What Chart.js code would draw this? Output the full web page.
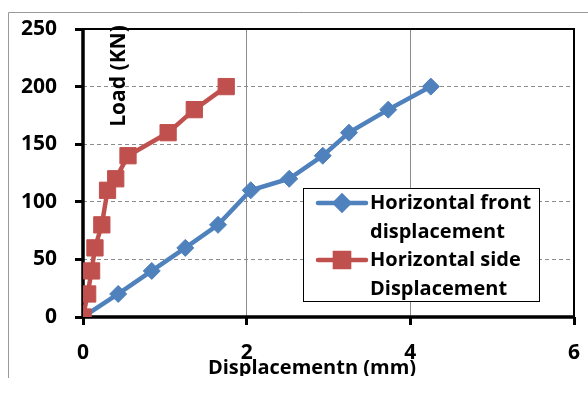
<!DOCTYPE html>
<html lang="en">
<head>
    <meta charset="UTF-8">
    <title>Load vs Displacement</title>
    <script src="https://cdn.jsdelivr.net/npm/chart.js"></script>
    <style>
        body {
            margin: 0;
            background: #ffffff;
        }
        #loadChart {
            display: block;
        }
    </style>
</head>
<body>

    <canvas id="loadChart" width="588" height="378"></canvas>

    <script>
        // displacement (mm) and load (KN) readings
        const frontDisp = [0, 0.43, 0.84, 1.25, 1.65, 2.05, 2.52, 2.93, 3.25, 3.73, 4.25];
        const frontLoad = [0, 20, 40, 60, 80, 110, 120, 140, 160, 180, 200];
        const sideDisp = [0, 0.057, 0.105, 0.146, 0.23, 0.30, 0.40, 0.55, 1.04, 1.36, 1.75];
        const sideLoad = [0, 20, 40, 60, 80, 110, 120, 140, 160, 180, 200];

        const seriesNames = [
            ["Horizontal front", "displacement"],
            ["Horizontal side", "Displacement"]
        ];
        const xTitle = "Displacementn (mm)";
        const yTitle = "Load (KN)";

        const blue = "#4f81bd";
        const red = "#c0504d";
        const FONT = "'Open Sans', sans-serif";

        function toPoints(xs, ys) {
            return xs.map((x, i) => ({ x: x, y: ys[i] }));
        }

        // outer frame, plot box and titles
        const framePlugin = {
            id: "frame",
            beforeDraw(chart) {
                const ctx = chart.ctx;
                ctx.save();
                ctx.fillStyle = "#ffffff";
                ctx.fillRect(0, 0, chart.width, chart.height);
                ctx.strokeStyle = "#999999";
                ctx.lineWidth = 1;
                ctx.beginPath();
                ctx.moveTo(8.5, chart.height);
                ctx.lineTo(8.5, 12.5);
                ctx.lineTo(chart.width, 12.5);
                ctx.stroke();
                ctx.restore();
            },
            beforeDatasetsDraw(chart) {
                const ctx = chart.ctx;
                const a = chart.chartArea;
                ctx.save();
                ctx.strokeStyle = "#000000";
                ctx.lineWidth = 2;
                ctx.beginPath();
                ctx.moveTo(a.left, a.top);
                ctx.lineTo(a.right, a.top);
                ctx.lineTo(a.right, a.bottom);
                ctx.stroke();
                ctx.lineWidth = 3.5;
                ctx.beginPath();
                ctx.moveTo(a.left, a.top - 1);
                ctx.lineTo(a.left, a.bottom);
                ctx.lineTo(a.right + 1, a.bottom);
                ctx.stroke();
                ctx.restore();
            },
            afterDraw(chart) {
                const ctx = chart.ctx;
                ctx.save();
                ctx.fillStyle = "#000000";

                // y title sits inside the plot
                ctx.font = "bold 21px " + FONT;
                ctx.textAlign = "center";
                ctx.textBaseline = "alphabetic";
                ctx.save();
                ctx.translate(125, 76);
                ctx.rotate(-Math.PI / 2);
                ctx.fillText(yTitle, 0, 0);
                ctx.restore();

                // x title, cut off at the bottom
                ctx.save();
                ctx.beginPath();
                ctx.rect(0, 0, chart.width, 376);
                ctx.clip();
                ctx.font = "bold 20px " + FONT;
                ctx.fillText(xTitle, 312, 374);
                ctx.restore();

                // legend box
                const bx = 303.5, by = 188.5, bw = 236, bh = 113;
                ctx.fillStyle = "#ffffff";
                ctx.fillRect(bx, by, bw, bh);
                ctx.strokeStyle = "#000000";
                ctx.lineWidth = 1;
                ctx.strokeRect(bx, by, bw, bh);

                const rows = [203, 260];
                chart.data.datasets.forEach((ds, i) => {
                    const cy = rows[i];
                    ctx.strokeStyle = ds.borderColor;
                    ctx.lineWidth = 4.5;
                    ctx.lineCap = "round";
                    ctx.beginPath();
                    ctx.moveTo(318, cy);
                    ctx.lineTo(366, cy);
                    ctx.stroke();
                    ctx.fillStyle = ds.pointBackgroundColor;
                    ctx.strokeStyle = ds.pointBorderColor;
                    Chart.helpers.drawPoint(ctx, {
                        pointStyle: ds.pointStyle,
                        radius: ds.pointStyle === "rect" ? 10 : 7,
                        rotation: 0,
                        borderWidth: 1
                    }, 342, cy);
                    ctx.fillStyle = "#000000";
                    ctx.font = "bold 20px " + FONT;
                    ctx.textAlign = "left";
                    ctx.textBaseline = "alphabetic";
                    seriesNames[i].forEach((line, j) => {
                        ctx.fillText(line, 370, cy + 6 + j * 29);
                    });
                });
                ctx.restore();
            }
        };

        new Chart(document.getElementById("loadChart"), {
            type: "scatter",
            data: {
                datasets: [{
                    label: seriesNames[0].join(" "),
                    data: toPoints(frontDisp, frontLoad),
                    showLine: true,
                    borderColor: blue,
                    borderWidth: 4.5,
                    pointStyle: "rectRot",
                    pointRadius: 8.5,
                    pointBackgroundColor: blue,
                    pointBorderColor: blue,
                    pointBorderWidth: 1,
                    order: 1
                }, {
                    label: seriesNames[1].join(" "),
                    data: toPoints(sideDisp, sideLoad),
                    showLine: true,
                    borderColor: red,
                    borderWidth: 4.5,
                    pointStyle: "rect",
                    pointRadius: 11.5,
                    pointBackgroundColor: red,
                    pointBorderColor: red,
                    pointBorderWidth: 1,
                    order: 0
                }]
            },
            options: {
                responsive: false,
                animation: false,
                layout: {
                    padding: { left: 0, top: 29, right: 14, bottom: 0 }
                },
                plugins: {
                    legend: { display: false },
                    tooltip: { enabled: false }
                },
                scales: {
                    x: {
                        type: "linear",
                        min: 0,
                        max: 6,
                        afterFit: s => {
                            s.height = 61;
                            s.paddingLeft = 0;
                            s.paddingRight = 0;
                        },
                        ticks: {
                            stepSize: 2,
                            padding: 15,
                            color: "#000000",
                            font: { family: FONT, size: 21, weight: "bold" }
                        },
                        grid: {
                            color: "#8c8c8c",
                            lineWidth: 1,
                            tickColor: "#000000",
                            tickWidth: 3,
                            tickLength: 8
                        },
                        border: { display: false }
                    },
                    y: {
                        min: 0,
                        max: 250,
                        afterFit: s => {
                            s.width = 83;
                            s.paddingTop = 0;
                            s.paddingBottom = 0;
                        },
                        ticks: {
                            stepSize: 50,
                            padding: 18,
                            color: "#000000",
                            font: { family: FONT, size: 21, weight: "bold" }
                        },
                        grid: {
                            color: "#8c8c8c",
                            lineWidth: 1,
                            tickColor: "#000000",
                            tickWidth: 3,
                            tickLength: 8,
                            tickBorderDash: []
                        },
                        border: { display: false, dash: [4, 3] }
                    }
                }
            },
            plugins: [framePlugin]
        });
    </script>

</body>
</html>
